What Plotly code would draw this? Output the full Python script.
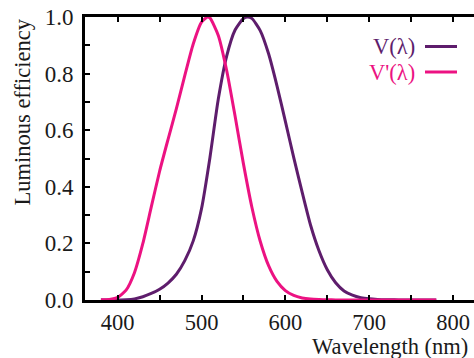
import plotly.graph_objects as go

# Wavelengths (nm)
wl_photopic = [380, 390, 400, 410, 420, 430, 440, 450, 460, 470, 480, 490, 500, 510, 520,
               530, 540, 550, 555, 560, 570, 580, 590, 600, 610, 620, 630, 640, 650, 660,
               670, 680, 690, 700, 710, 720, 730, 740, 750, 760, 770, 780]
v_photopic = [0.00004, 0.00012, 0.0004, 0.0012, 0.004, 0.0116, 0.023, 0.038, 0.06, 0.091,
              0.139, 0.208, 0.323, 0.503, 0.71, 0.862, 0.954, 0.995, 1.0, 0.995, 0.952, 0.87,
              0.757, 0.631, 0.503, 0.381, 0.265, 0.175, 0.107, 0.061, 0.032, 0.017, 0.0082,
              0.0041, 0.0021, 0.00105, 0.00052, 0.00025, 0.00012, 0.00006, 0.00003, 0.000015]

wl_scotopic = [380, 390, 400, 410, 420, 430, 440, 450, 460, 470, 480, 490, 500, 507, 510,
               520, 530, 540, 550, 560, 570, 580, 590, 600, 610, 620, 630, 640, 650, 660,
               670, 680, 690, 700, 720, 740, 760, 780]
v_scotopic = [0.000589, 0.002209, 0.00929, 0.03484, 0.0966, 0.1998, 0.3281, 0.455, 0.567,
              0.676, 0.793, 0.904, 0.982, 1.0, 0.997, 0.935, 0.811, 0.65, 0.481, 0.3288,
              0.2076, 0.1212, 0.0655, 0.03315, 0.01593, 0.00737, 0.003335, 0.001497, 0.000677,
              0.000313, 0.000148, 0.0000715, 0.0000353, 0.0000178, 0.0000045, 0.0000012,
              0.0000003, 0.0000001]

series_names = ["V(λ)", "V'(λ)"]
colors = ["#5e1d6c", "#ec1282"]

FONT = "Liberation Serif, Times New Roman, serif"
TXT = "#1a1a1a"

fig = go.Figure()
fig.add_trace(go.Scatter(x=wl_photopic, y=v_photopic, mode="lines", name=series_names[0],
                         line=dict(color=colors[0], width=3, shape="spline", smoothing=0.6),
                         showlegend=False))
fig.add_trace(go.Scatter(x=wl_scotopic, y=v_scotopic, mode="lines", name=series_names[1],
                         line=dict(color=colors[1], width=3, shape="spline", smoothing=0.6),
                         showlegend=False))

# Legend (text on the left, line sample on the right)
leg_y = [46.5, 72]
for name, col, yy in zip(series_names, colors, leg_y):
    fig.add_annotation(xref="paper", yref="paper", x=(417 - 85) / 389, y=(300 - yy) / 283,
                       xanchor="right", yanchor="middle", text=name, showarrow=False,
                       font=dict(family=FONT, size=22.5, color=col))
    fig.add_shape(type="line", xref="paper", yref="paper",
                  x0=(425 - 85) / 389, x1=(457 - 85) / 389,
                  y0=(300 - yy) / 283, y1=(300 - yy) / 283,
                  line=dict(color=col, width=3))

fig.add_annotation(xref="paper", yref="paper", x=(470 - 85) / 389, y=(300 - 346.5) / 283,
                   xanchor="right", yanchor="middle", text="Wavelength (nm)", showarrow=False,
                   font=dict(family=FONT, size=22.5, color=TXT))
fig.add_annotation(xref="paper", yref="paper", x=(22 - 85) / 389, y=1.0,
                   xanchor="center", yanchor="top", text="Luminous efficiency", showarrow=False,
                   textangle=-90, font=dict(family=FONT, size=22.5, color=TXT))

fig.update_xaxes(range=[361, 825], tick0=400, dtick=100, ticks="inside", ticklen=5,
                 tickwidth=2, tickcolor="black", showline=True, linewidth=3, linecolor="black",
                 mirror="ticks", showgrid=False, zeroline=False,
                 minor=dict(dtick=50, tick0=400, ticks="inside", ticklen=5, tickwidth=2,
                            tickcolor="black", showgrid=False),
                 tickfont=dict(family=FONT, size=22.5, color=TXT))
fig.update_yaxes(range=[0, 1], tick0=0, dtick=0.2, tickformat=".1f", ticks="inside",
                 ticklen=5, tickwidth=2, tickcolor="black", showline=True, linewidth=3,
                 linecolor="black", mirror=False, showgrid=False, zeroline=False,
                 ticklabelstandoff=4,
                 minor=dict(dtick=0.1, ticks="inside", ticklen=5, tickwidth=2,
                            tickcolor="black", showgrid=False),
                 tickfont=dict(family=FONT, size=23, color=TXT))

fig.update_layout(width=474, height=358, margin=dict(l=85, r=0, t=17, b=58, autoexpand=False),
                  plot_bgcolor="white", paper_bgcolor="white")

fig.write_html("out.html", config={"displayModeBar": False},
               post_script="document.body.style.margin='0';document.body.style.overflow='hidden';")
